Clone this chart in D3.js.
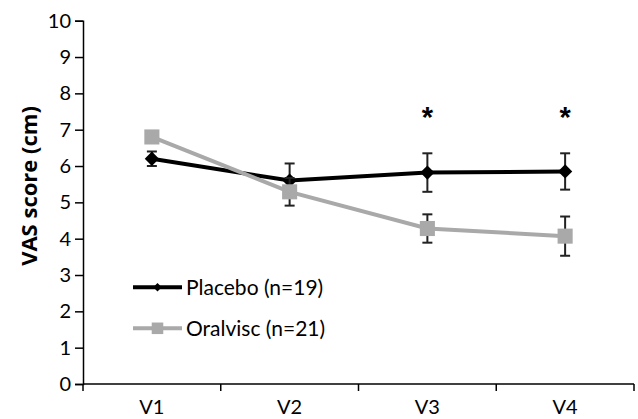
<!DOCTYPE html>
<html>
<head>
<meta charset="utf-8">
<script src="https://cdn.jsdelivr.net/npm/d3@7"></script>
<style>
  body { margin: 0; background: #fff; }
  text { font-family: Lato, "Open Sans", sans-serif; }
</style>
</head>
<body>
<div id="chart"></div>
<script>
var visits = ["V1", "V2", "V3", "V4"];
var placeboMean = [6.2, 5.6, 5.82, 5.85];
var placeboErr = [0.2, 0.47, 0.53, 0.5];
var oralviscMean = [6.8, 5.29, 4.28, 4.07];
var oralviscErr = [0.15, 0.38, 0.39, 0.54];
var starVisits = ["V3", "V4"];
var yTicks = [0, 1, 2, 3, 4, 5, 6, 7, 8, 9, 10];

var width = 638, height = 419;
var margin = {top: 20.7, right: 4, bottom: 35, left: 83};
var w = width - margin.left - margin.right;
var h = height - margin.top - margin.bottom;

var svg = d3.select("#chart")
    .append("svg")
        .attr("width", width)
        .attr("height", height)
    .append("g")
        .attr("transform", "translate(" + margin.left + "," + margin.top + ")");

var x = d3.scaleBand().domain(visits).range([0, 551]);
var y = d3.scaleLinear().domain([0, 10]).range([h, 0]);
var cx = function(v) { return x(v) + x.bandwidth() / 2; };

// y axis
var yAxis = svg.append("g")
    .call(d3.axisLeft(y).tickValues(yTicks).tickSize(8).tickPadding(4));
yAxis.select(".domain").attr("stroke", "#000").attr("stroke-width", 1.5);
yAxis.selectAll(".tick line").attr("stroke-width", 1.5);
yAxis.selectAll(".tick text").attr("font-size", "20px").attr("fill", "#000")
    .style("font-family", "Lato, sans-serif");

// x axis, ticks at band edges
var xAxis = svg.append("g")
    .attr("transform", "translate(0," + h + ")");
xAxis.append("line")
    .attr("x1", 0).attr("x2", 551)
    .attr("stroke", "#000").attr("stroke-width", 1.5);
xAxis.selectAll("line.edge")
    .data(visits.map(function(v) { return x(v); }).concat([551]))
    .enter().append("line")
    .attr("class", "edge")
    .attr("x1", function(d) { return d; })
    .attr("x2", function(d) { return d; })
    .attr("y1", 0).attr("y2", 7)
    .attr("stroke", "#000").attr("stroke-width", 1.5);
xAxis.selectAll("text")
    .data(visits)
    .enter().append("text")
    .attr("x", function(d) { return cx(d); })
    .attr("y", 30)
    .attr("text-anchor", "middle")
    .attr("font-size", "20px")
    .text(function(d) { return d; });

svg.append("text")
    .attr("transform", "rotate(-90)")
    .attr("x", -(186 - margin.top))
    .attr("y", -46)
    .attr("text-anchor", "middle")
    .attr("font-size", "22px")
    .attr("font-weight", "bold")
    .style("font-family", "'Open Sans', sans-serif")
    .text("VAS score (cm)");

var series = [
    {name: "Placebo (n=19)", mean: placeboMean, err: placeboErr, color: "#000", shape: d3.symbolDiamond2, size: 130, lsize: 45},
    {name: "Oralvisc (n=21)", mean: oralviscMean, err: oralviscErr, color: "#a9a9a9", shape: d3.symbolSquare2, size: 290, lsize: 170}
];

function drawSeries(s, layer) {
    var pts = visits.map(function(v, i) { return {v: v, m: s.mean[i], e: s.err[i]}; });
    var line = d3.line().x(function(d) { return cx(d.v); }).y(function(d) { return y(d.m); });
    layer.append("path")
        .datum(pts)
        .attr("d", line)
        .attr("fill", "none")
        .attr("stroke", s.color)
        .attr("stroke-width", 4);
    var eb = layer.selectAll("g.eb").data(pts).enter().append("g");
    eb.append("line")
        .attr("x1", function(d) { return cx(d.v); }).attr("x2", function(d) { return cx(d.v); })
        .attr("y1", function(d) { return y(d.m - d.e); }).attr("y2", function(d) { return y(d.m + d.e); })
        .attr("stroke", "#222").attr("stroke-width", 2);
    [1, -1].forEach(function(sign) {
        eb.append("line")
            .attr("x1", function(d) { return cx(d.v) - 5; }).attr("x2", function(d) { return cx(d.v) + 5; })
            .attr("y1", function(d) { return y(d.m + sign * d.e); })
            .attr("y2", function(d) { return y(d.m + sign * d.e); })
            .attr("stroke", "#222").attr("stroke-width", 2);
    });
    layer.selectAll("path.mk").data(pts).enter().append("path")
        .attr("class", "mk")
        .attr("d", d3.symbol().type(s.shape).size(s.size))
        .attr("transform", function(d) { return "translate(" + cx(d.v) + "," + y(d.m) + ")"; })
        .attr("fill", s.color);
}

drawSeries(series[0], svg.append("g"));
drawSeries(series[1], svg.append("g"));

svg.selectAll("text.star")
    .data(starVisits)
    .enter().append("text")
    .attr("class", "star")
    .attr("x", function(d) { return cx(d); })
    .attr("y", 127 - margin.top)
    .attr("text-anchor", "middle")
    .attr("font-size", "29px")
    .attr("font-weight", "bold")
    .style("font-family", "'Liberation Sans', sans-serif")
    .text("*");

// legend
var legend = svg.append("g");
series.forEach(function(s, i) {
    var ly = 287.3 + i * 41 - margin.top;
    legend.append("line")
        .attr("x1", 50).attr("x2", 99)
        .attr("y1", ly).attr("y2", ly)
        .attr("stroke", s.color).attr("stroke-width", 4);
    legend.append("path")
        .attr("d", d3.symbol().type(s.shape).size(s.lsize))
        .attr("transform", "translate(74.5," + ly + ")")
        .attr("fill", s.color);
    legend.append("text")
        .attr("x", 103)
        .attr("y", ly + 7.5)
        .attr("font-size", "21px")
        .text(s.name);
});
</script>
</body>
</html>
